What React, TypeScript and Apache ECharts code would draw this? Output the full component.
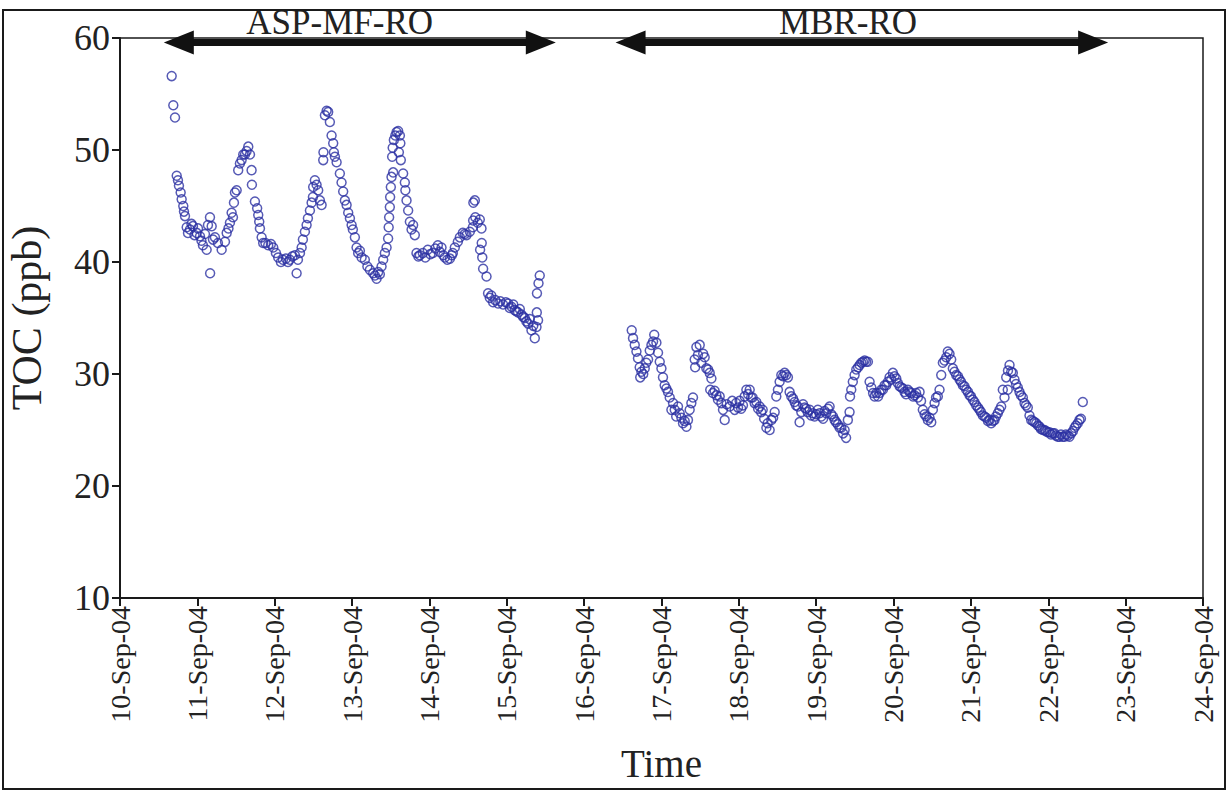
import { useEffect, useRef } from 'react';
import * as echarts from 'echarts';

// Day tick labels, one per day starting at 10-Sep-04 (x = days since 10-Sep-04 00:00)
const dayLabels = [
  '10-Sep-04', '11-Sep-04', '12-Sep-04', '13-Sep-04', '14-Sep-04',
  '15-Sep-04', '16-Sep-04', '17-Sep-04', '18-Sep-04', '19-Sep-04',
  '20-Sep-04', '21-Sep-04', '22-Sep-04', '23-Sep-04', '24-Sep-04',
];

// TOC permeate readings, [days since 10-Sep-04, TOC ppb]
const aspMfRo: [number, number][] = [
  [0.668, 56.6], [0.689, 54.0], [0.711, 52.9], [0.733, 47.7], [0.749, 47.3], [0.762, 46.8], [0.784, 46.2], [0.797, 45.6], [0.818, 45.0], [0.827, 44.5],
  [0.840, 44.1], [0.862, 43.1], [0.879, 42.6], [0.904, 42.9], [0.924, 43.4], [0.943, 43.2], [0.963, 42.4], [0.991, 42.6], [1.008, 43.0], [1.034, 42.3],
  [1.053, 41.9], [1.072, 41.5], [1.098, 42.5], [1.120, 41.1], [1.137, 43.3], [1.163, 44.0], [1.165, 39.0], [1.185, 43.2], [1.202, 42.0], [1.227, 42.2],
  [1.266, 41.7], [1.314, 41.1], [1.357, 41.8], [1.379, 42.6], [1.402, 43.0], [1.421, 43.5], [1.443, 44.4], [1.460, 44.0], [1.473, 45.3], [1.486, 46.2],
  [1.508, 46.4], [1.528, 48.2], [1.550, 48.8], [1.572, 49.1], [1.593, 49.6], [1.615, 49.6], [1.637, 49.9], [1.658, 50.3], [1.680, 49.6], [1.701, 48.2],
  [1.705, 46.9], [1.744, 45.4], [1.773, 44.8], [1.787, 44.2], [1.800, 43.6], [1.809, 43.0], [1.831, 42.2], [1.851, 41.7], [1.880, 41.7], [1.916, 41.5],
  [1.951, 41.6], [1.981, 41.3], [2.016, 40.8], [2.045, 40.4], [2.080, 40.0], [2.106, 40.2], [2.145, 40.3], [2.171, 40.0], [2.196, 40.2], [2.229, 40.5],
  [2.261, 40.6], [2.283, 39.0], [2.300, 40.2], [2.326, 40.8], [2.348, 41.3], [2.364, 42.0], [2.390, 42.7], [2.412, 43.3], [2.429, 43.9], [2.455, 44.6],
  [2.477, 45.3], [2.494, 45.8], [2.497, 46.7], [2.519, 47.3], [2.541, 46.9], [2.562, 46.4], [2.584, 45.5], [2.606, 45.1], [2.627, 49.1], [2.630, 49.8],
  [2.649, 53.1], [2.671, 53.5], [2.691, 53.4], [2.713, 52.5], [2.735, 51.3], [2.756, 50.6], [2.765, 49.8], [2.778, 49.4], [2.800, 48.9], [2.842, 47.9],
  [2.864, 47.1], [2.885, 46.3], [2.907, 45.5], [2.929, 45.1], [2.950, 44.4], [2.972, 43.9], [2.994, 43.3], [3.010, 42.9], [3.036, 42.2], [3.058, 41.3],
  [3.079, 40.8], [3.101, 41.0], [3.123, 40.4], [3.165, 40.2], [3.198, 39.6], [3.230, 39.3], [3.273, 39.0], [3.295, 38.8], [3.317, 38.5], [3.337, 39.1],
  [3.359, 38.9], [3.381, 39.6], [3.402, 40.2], [3.424, 40.8], [3.446, 41.3], [3.466, 42.1], [3.473, 43.1], [3.479, 44.0], [3.488, 44.9], [3.492, 45.8],
  [3.501, 46.7], [3.510, 47.6], [3.518, 49.4], [3.525, 50.2], [3.531, 48.0], [3.540, 50.9], [3.559, 51.3], [3.575, 51.6], [3.596, 51.7], [3.605, 49.8],
  [3.618, 51.3], [3.624, 50.6], [3.630, 49.1], [3.660, 47.9], [3.682, 47.1], [3.689, 46.4], [3.704, 45.5], [3.725, 44.6], [3.747, 43.6], [3.769, 42.9],
  [3.789, 43.3], [3.811, 42.4], [3.833, 40.8], [3.857, 40.5], [3.876, 40.6], [3.915, 40.8], [3.947, 40.4], [3.979, 41.1], [4.012, 40.7], [4.044, 40.8],
  [4.076, 41.2], [4.109, 41.5], [4.134, 40.9], [4.156, 41.3], [4.180, 40.6], [4.199, 40.4], [4.231, 40.2], [4.264, 40.3], [4.289, 40.6], [4.302, 40.8],
  [4.328, 41.3], [4.367, 41.8], [4.393, 42.2], [4.432, 42.6], [4.457, 42.5], [4.479, 42.4], [4.522, 42.7], [4.561, 43.1], [4.565, 43.7], [4.568, 45.3],
  [4.587, 45.5], [4.593, 44.0], [4.625, 43.5], [4.651, 43.8], [4.673, 43.0], [4.676, 41.7], [4.655, 41.1], [4.683, 40.4], [4.694, 39.4], [4.738, 38.7],
  [4.758, 37.2], [4.780, 36.8], [4.800, 37.0], [4.823, 36.4], [4.851, 36.6], [4.888, 36.3], [4.916, 36.5], [4.952, 36.2], [4.987, 36.4], [5.017, 36.3],
  [5.039, 35.9], [5.061, 36.0], [5.084, 36.2], [5.103, 35.7], [5.123, 35.6], [5.146, 35.5], [5.168, 35.8], [5.190, 35.3], [5.213, 35.1], [5.233, 35.0],
  [5.252, 34.7], [5.275, 34.5], [5.297, 34.9], [5.319, 33.9], [5.342, 34.3], [5.362, 33.2], [5.384, 34.2], [5.388, 35.5], [5.404, 34.8], [5.390, 37.2],
  [5.410, 38.1], [5.426, 38.8],
];

const mbrRo: [number, number][] = [
  [6.615, 33.9], [6.632, 33.2], [6.654, 32.6], [6.676, 32.0], [6.696, 31.4], [6.718, 30.6], [6.740, 30.2], [6.725, 29.7], [6.764, 30.0], [6.783, 30.5],
  [6.803, 31.0], [6.826, 31.3], [6.848, 32.1], [6.870, 32.6], [6.891, 32.9], [6.906, 33.5], [6.934, 32.8], [6.955, 31.9], [6.977, 31.1], [6.999, 30.5],
  [7.019, 29.7], [7.041, 29.0], [7.063, 28.7], [7.084, 28.4], [7.106, 27.9], [7.128, 26.8], [7.149, 27.4], [7.171, 26.8], [7.190, 26.2], [7.213, 27.1],
  [7.235, 26.5], [7.257, 26.1], [7.278, 25.6], [7.300, 25.8], [7.322, 25.3], [7.342, 25.9], [7.364, 26.8], [7.386, 27.4], [7.407, 27.9], [7.429, 31.3],
  [7.435, 30.6], [7.451, 32.4], [7.471, 31.7], [7.494, 32.6], [7.515, 31.0], [7.539, 31.8], [7.558, 31.5], [7.580, 30.5], [7.603, 30.4], [7.623, 30.1],
  [7.645, 29.6], [7.630, 28.6], [7.666, 28.3], [7.687, 28.5], [7.709, 28.1], [7.730, 27.7], [7.752, 28.0], [7.774, 27.4], [7.795, 26.8], [7.817, 25.9],
  [7.842, 27.3], [7.881, 27.1], [7.914, 27.6], [7.946, 26.8], [7.965, 27.4], [7.989, 27.0], [8.010, 27.6], [8.030, 26.9], [8.053, 27.2], [8.075, 28.0],
  [8.097, 28.6], [8.120, 28.2], [8.140, 28.6], [8.158, 27.9], [8.178, 27.9], [8.204, 27.4], [8.226, 27.5], [8.249, 26.9], [8.269, 27.1], [8.289, 26.6],
  [8.308, 26.8], [8.327, 26.0], [8.356, 25.2], [8.372, 25.6], [8.398, 25.0], [8.420, 25.9], [8.443, 26.1], [8.463, 26.6], [8.484, 28.0], [8.505, 28.6],
  [8.527, 29.3], [8.549, 29.9], [8.572, 29.8], [8.592, 30.1], [8.611, 29.9], [8.634, 29.7], [8.656, 28.4], [8.678, 28.0], [8.701, 27.8], [8.721, 27.5],
  [8.740, 27.2], [8.763, 27.1], [8.785, 25.7], [8.807, 26.6], [8.830, 27.3], [8.850, 27.0], [8.869, 26.9], [8.889, 26.6], [8.915, 26.8], [8.934, 26.3],
  [8.957, 26.5], [8.979, 26.2], [8.998, 26.4], [9.021, 26.8], [9.044, 26.5], [9.066, 26.2], [9.089, 26.0], [9.108, 26.7], [9.130, 26.5], [9.153, 26.9],
  [9.173, 27.1], [9.195, 26.4], [9.218, 26.2], [9.238, 25.9], [9.257, 25.7], [9.280, 25.5], [9.302, 25.2], [9.324, 25.2], [9.347, 24.7], [9.367, 25.0],
  [9.386, 24.3], [9.409, 25.9], [9.431, 26.6], [9.437, 28.0], [9.453, 28.6], [9.473, 29.3], [9.496, 29.9], [9.518, 30.4], [9.541, 30.6], [9.561, 30.8],
  [9.583, 31.0], [9.604, 31.1], [9.626, 31.2], [9.645, 31.1], [9.668, 31.1], [9.690, 29.3], [9.712, 28.8], [9.735, 28.3], [9.755, 28.0], [9.777, 28.3],
  [9.800, 28.0], [9.819, 28.3], [9.841, 28.6], [9.862, 28.6], [9.884, 29.0], [9.906, 29.0], [9.927, 29.3], [9.948, 29.7], [9.970, 29.5], [9.991, 30.1],
  [10.013, 29.8], [10.035, 29.6], [10.055, 29.2], [10.078, 28.9], [10.099, 28.8], [10.123, 28.7], [10.142, 28.4], [10.161, 28.2], [10.185, 28.6], [10.207, 28.4],
  [10.229, 28.3], [10.252, 28.0], [10.271, 28.1], [10.291, 28.3], [10.314, 27.9], [10.336, 28.4], [10.355, 27.6], [10.378, 26.8], [10.401, 26.4], [10.423, 26.2],
  [10.443, 25.9], [10.465, 26.1], [10.487, 25.7], [10.508, 26.8], [10.530, 27.4], [10.549, 27.9], [10.572, 28.0], [10.594, 28.6], [10.616, 29.9], [10.637, 31.0],
  [10.659, 31.2], [10.681, 31.5], [10.701, 32.0], [10.723, 31.8], [10.745, 31.3], [10.766, 30.5], [10.788, 30.2], [10.810, 29.9], [10.833, 29.8], [10.853, 29.5],
  [10.872, 29.3], [10.895, 29.0], [10.917, 28.9], [10.939, 28.6], [10.962, 28.4], [10.982, 28.1], [11.001, 28.0], [11.024, 27.7], [11.046, 27.5], [11.068, 27.2],
  [11.091, 27.0], [11.111, 26.8], [11.130, 26.6], [11.153, 26.3], [11.176, 26.2], [11.198, 26.1], [11.220, 25.8], [11.240, 25.9], [11.262, 25.6], [11.285, 25.8],
  [11.305, 25.9], [11.324, 26.2], [11.347, 26.5], [11.369, 26.8], [11.391, 27.1], [11.412, 28.6], [11.434, 27.9], [11.456, 29.7], [11.476, 28.6], [11.479, 30.3],
  [11.499, 30.8], [11.521, 30.2], [11.541, 30.1], [11.563, 29.5], [11.583, 29.1], [11.606, 28.8], [11.628, 28.4], [11.647, 28.1], [11.671, 27.9], [11.693, 27.4],
  [11.712, 27.2], [11.735, 27.0], [11.757, 26.3], [11.779, 25.9], [11.802, 25.8], [11.822, 25.7], [11.844, 25.6], [11.867, 25.4], [11.886, 25.3], [11.906, 25.1],
  [11.929, 25.0], [11.951, 25.0], [11.970, 24.9], [11.993, 24.8], [12.016, 24.8], [12.035, 24.6], [12.058, 24.7], [12.080, 24.7], [12.099, 24.5], [12.123, 24.4],
  [12.145, 24.4], [12.164, 24.6], [12.187, 24.4], [12.209, 24.4], [12.228, 24.6], [12.252, 24.5], [12.274, 24.4], [12.296, 24.7], [12.319, 24.9], [12.339, 25.2],
  [12.358, 25.4], [12.381, 25.6], [12.403, 25.9], [12.422, 26.0], [12.446, 27.5],
];

// Treatment phases shown as double-headed arrows along the top of the plot
const phaseNames = ['ASP-MF-RO', 'MBR-RO'];
const phaseStart = [0.76, 6.6];
const phaseEnd = [5.44, 12.58];
const phaseLabelAt = [2.84, 9.41];
const phaseLevel = 59.6;

const SERIF = "'Liberation Serif', 'DejaVu Serif', 'Times New Roman', serif";
const INK = '#1a1a1a';
const MARKER = '#2c31a3';

export default function App() {
  const ref = useRef<HTMLDivElement>(null);

  useEffect(() => {
    const chart = echarts.init(ref.current!, null, { renderer: 'svg' });

    const markerStyle = {
      color: 'rgba(0,0,0,0)',
      borderColor: MARKER,
      borderWidth: 1.5,
    };

    chart.setOption({
      animation: false,
      backgroundColor: '#ffffff',
      grid: {
        left: 120,
        right: 25,
        top: 38,
        bottom: 194,
        outerBoundsMode: 'none',
        containLabel: false,
        show: true,
        borderColor: INK,
        borderWidth: 1.5,
        backgroundColor: 'transparent',
      },
      xAxis: {
        type: 'value',
        min: 0,
        max: 14,
        interval: 1,
        name: 'Time',
        nameLocation: 'middle',
        nameGap: 146,
        nameTextStyle: { fontFamily: SERIF, fontSize: 39, color: '#222' },
        axisLine: { lineStyle: { color: INK, width: 2 } },
        axisTick: { length: 8, lineStyle: { color: INK, width: 2 } },
        axisLabel: {
          rotate: 90,
          margin: 8,
          fontFamily: SERIF,
          fontSize: 28,
          color: '#222',
          formatter: (v: number) => dayLabels[Math.round(v)] ?? '',
        },
        splitLine: { show: false },
      },
      yAxis: {
        type: 'value',
        min: 10,
        max: 60,
        interval: 10,
        name: 'TOC (ppb)',
        nameLocation: 'middle',
        nameGap: 72,
        nameTextStyle: { fontFamily: SERIF, fontSize: 42, color: '#222' },
        axisLine: { show: true, lineStyle: { color: INK, width: 2 } },
        axisTick: { show: true, length: 8, lineStyle: { color: INK, width: 2 } },
        axisLabel: { margin: 10, fontFamily: SERIF, fontSize: 36, color: '#222' },
        splitLine: { show: false },
      },
      series: [
        {
          type: 'scatter',
          name: 'ASP-MF-RO',
          data: aspMfRo,
          symbol: 'circle',
          symbolSize: 9,
          itemStyle: markerStyle,
          clip: false,
          markLine: {
            silent: true,
            symbol: ['triangle', 'triangle'],
            symbolSize: [24, 30],
            lineStyle: { color: '#111', width: 7, type: 'solid' },
            label: { show: false },
            data: phaseNames.map((_, i) => [
              { coord: [phaseStart[i], phaseLevel] },
              { coord: [phaseEnd[i], phaseLevel] },
            ]),
          },
        },
        {
          type: 'scatter',
          name: 'MBR-RO',
          data: mbrRo,
          symbol: 'circle',
          symbolSize: 9,
          itemStyle: markerStyle,
        },
      ],
    });

    const labelGraphics = phaseNames.map((name, i) => {
      const x = chart.convertToPixel({ xAxisIndex: 0 }, phaseLabelAt[i]) as number;
      return {
        type: 'text',
        id: 'phase-' + i,
        x,
        y: 22,
        style: {
          text: name,
          fontFamily: SERIF,
          fontSize: 35,
          fill: '#222',
          align: 'center',
          verticalAlign: 'middle',
        },
        z: 10,
      };
    });

    chart.setOption({
      graphic: [
        {
          type: 'rect',
          id: 'frame',
          shape: { x: 3, y: 10, width: 1222, height: 779 },
          style: { fill: 'none', stroke: INK, lineWidth: 2 },
          silent: true,
          z: 20,
        },
        ...labelGraphics,
      ],
    });

    return () => chart.dispose();
  }, []);

  return (
    <div
      ref={ref}
      style={{ position: 'fixed', left: 0, top: 0, width: 1228, height: 792 }}
    />
  );
}
